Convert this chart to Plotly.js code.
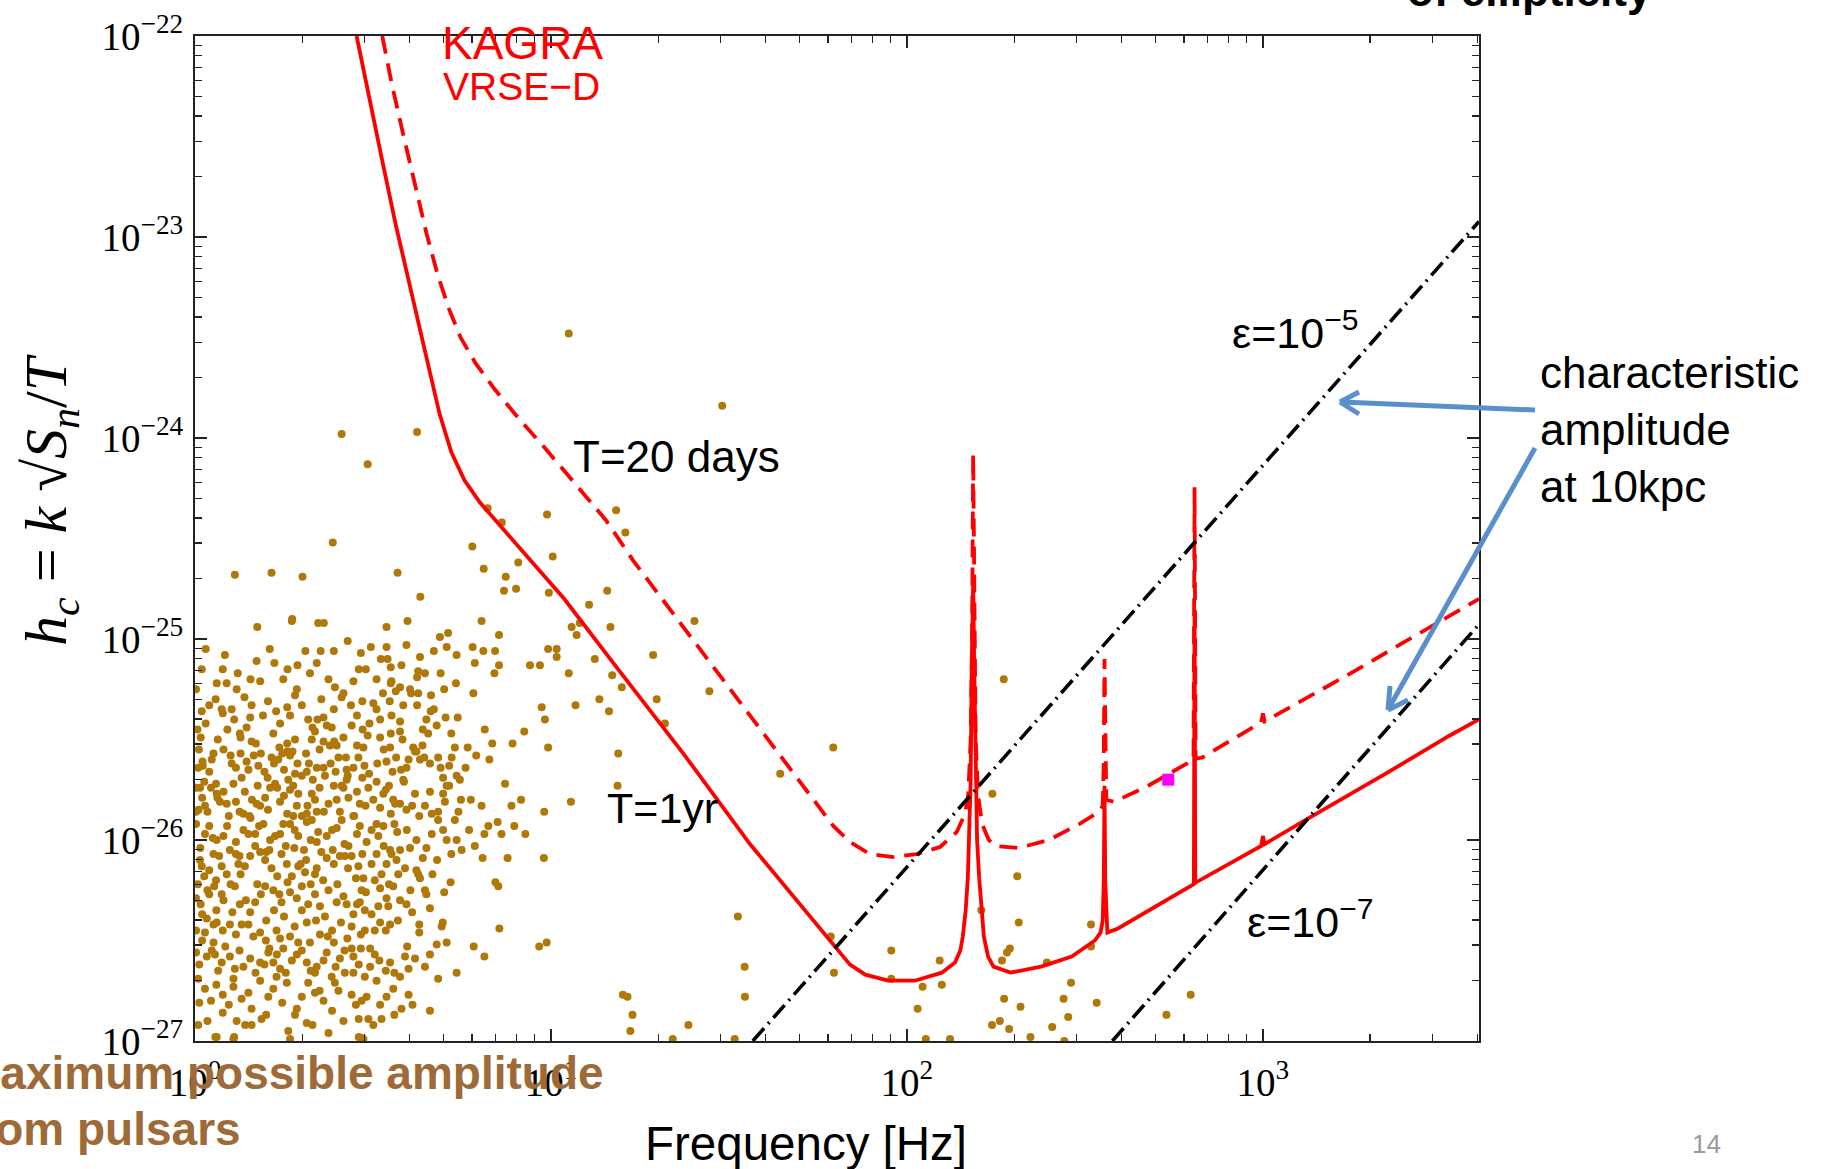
<!DOCTYPE html>
<html><head><meta charset="utf-8">
<script src="https://cdn.plot.ly/plotly-3.0.1.min.js"></script>
<style>html,body{margin:0;padding:0;background:#fff}</style>
</head><body><div id="chart" style="width:1830px;height:1169px"></div>
<script>
// ---------- DATA (log10 frequency [Hz], log10 h_c) ----------
// KAGRA VRSE-D sensitivity, T = 1 yr (solid)
const solidLogF = [0.454,0.488,0.526,0.564,0.607,0.650,0.687,0.720,0.757,0.800,0.865,0.940,1.037,1.184,1.372,1.559,1.690,1.780,1.840,1.883,1.947,2.022,2.098,2.135,2.150,2.157,2.165,2.171,2.176,2.179,2.182,2.186,2.189,2.193,2.197,2.203,2.210,2.216,2.228,2.243,2.291,2.377,2.463,2.528,2.544,2.550,2.553,2.555,2.557,2.560,2.563,2.593,2.700,2.800,2.806,2.808,2.810,2.813,2.915,2.995,3.000,3.005,3.130,3.345,3.525,3.607];
const solidLogH = [-22.00,-22.30,-22.62,-22.94,-23.27,-23.59,-23.88,-24.07,-24.21,-24.32,-24.45,-24.60,-24.80,-25.14,-25.57,-26.02,-26.30,-26.495,-26.62,-26.67,-26.70,-26.70,-26.66,-26.61,-26.55,-26.48,-26.35,-26.19,-25.95,-25.71,-25.14,-24.71,-25.14,-25.71,-26.00,-26.19,-26.38,-26.48,-26.58,-26.63,-26.66,-26.63,-26.58,-26.50,-26.46,-26.40,-26.20,-25.73,-26.20,-26.42,-26.46,-26.44,-26.33,-26.23,-26.22,-24.875,-26.215,-26.21,-26.11,-26.03,-25.98,-26.02,-25.89,-25.67,-25.48,-25.40];
// T = 20 days (dashed)
const dashLogF = [0.526,0.553,0.585,0.617,0.650,0.682,0.714,0.746,0.789,0.843,0.908,0.983,1.069,1.155,1.231,1.372,1.512,1.653,1.793,1.840,1.896,1.962,2.027,2.093,2.140,2.163,2.172,2.179,2.183,2.186,2.189,2.193,2.200,2.211,2.230,2.249,2.313,2.399,2.485,2.539,2.550,2.553,2.555,2.557,2.560,2.582,2.678,2.786,2.805,2.808,2.811,2.829,2.995,3.000,3.005,3.237,3.525,3.607];
const dashLogH = [-22.00,-22.24,-22.49,-22.73,-22.98,-23.19,-23.36,-23.50,-23.63,-23.76,-23.90,-24.05,-24.23,-24.41,-24.61,-24.94,-25.27,-25.60,-25.93,-26.01,-26.07,-26.085,-26.07,-26.035,-25.96,-25.87,-25.78,-25.50,-25.00,-24.08,-25.00,-25.50,-25.78,-25.92,-26.00,-26.03,-26.04,-26.00,-25.92,-25.86,-25.83,-25.60,-25.10,-25.60,-25.80,-25.81,-25.73,-25.62,-25.60,-24.245,-25.595,-25.59,-25.415,-25.37,-25.41,-25.18,-24.88,-24.80];
// characteristic amplitude at 10 kpc lines (end points)
const eps5LogF = [1.567, 3.607];
const eps5LogH = [-27.0, -22.923];
const eps7LogF = [2.577, 3.607];
const eps7LogH = [-27.0, -24.927];
// magenta marker
const markLogF = [2.734];
const markLogH = [-25.70];
// pulsars: maximum possible amplitude (log10 f, log10 h)
const clusterPoints = [
[0.175,-24.94],[0.272,-24.91],[0.346,-24.92],[0.362,-24.92],[0.538,-24.94],[0.597,-24.91],[0.805,-24.91],[1.081,-24.92],[1.072,-24.98],[1.058,-24.94],[0.429,-25.01],[0.688,-24.99],[0.711,-24.97],[0.854,-24.98],[0.594,-25.03],[0.707,-25.04],[0.780,-25.04],[0.992,-25.05],[1.016,-25.05],[0.353,-25.06],[0.390,-25.06],[0.494,-25.04],[0.538,-25.04],[0.843,-25.06],[0.810,-25.06],[0.084,-25.08],[0.632,-25.09],
[0.173,-25.11],[0.223,-25.12],[0.078,-25.15],[0.019,-25.15],[0.288,-25.13],[0.323,-25.17],[0.342,-25.12],[0.466,-25.07],[0.522,-25.10],[0.541,-25.10],[0.550,-25.14],[0.646,-25.17],[0.627,-25.16],[0.671,-25.06],[0.735,-25.08],[0.786,-25.12],[0.854,-25.13],[0.841,-25.17],[0.941,-25.13],[0.969,-25.13],[1.050,-25.17],[1.016,-25.09],[0.061,-25.22],[0.089,-25.22],[0.156,-25.20],[0.183,-25.21],[0.248,-25.20],[0.445,-25.21],[0.480,-25.15],[0.510,-25.20],[0.552,-25.21],[0.576,-25.24],[0.624,-25.19],[0.733,-25.22],[1.123,-25.10],
[0.003,-25.25],[0.040,-25.33],[0.117,-25.25],[0.139,-25.29],[0.159,-25.33],[0.191,-25.38],[0.155,-25.39],[0.110,-25.40],[0.078,-25.37],[0.019,-25.36],[0.075,-25.35],[0.103,-25.35],[0.239,-25.42],[0.267,-25.38],[0.259,-25.34],[0.286,-25.25],[0.281,-25.28],[0.318,-25.40],[0.344,-25.40],[0.361,-25.39],[0.393,-25.24],[0.390,-25.35],[0.417,-25.27],[0.438,-25.33],[0.412,-25.29],[0.470,-25.31],[0.501,-25.32],[0.510,-25.35],[0.520,-25.40],[0.528,-25.27],[0.550,-25.22],[0.547,-25.31],[0.564,-25.26],[0.604,-25.25],[0.607,-25.27],[0.627,-25.27],[0.624,-25.33],[0.650,-25.40],[0.662,-25.36],[0.671,-25.35],[0.663,-25.28],[0.700,-25.25],[0.704,-25.39],[0.679,-25.43],[0.738,-25.39],[0.782,-25.27],[0.974,-25.34],[0.983,-25.40],[1.069,-25.33],[1.136,-25.30],[0.552,-25.38],[0.576,-25.41],
[0.007,-25.45],[0.016,-25.49],[0.064,-25.50],[0.091,-25.45],[0.126,-25.47],[0.128,-25.49],[0.159,-25.51],[0.171,-25.52],[0.185,-25.57],[0.220,-25.47],[0.237,-25.54],[0.259,-25.52],[0.274,-25.56],[0.281,-25.50],[0.259,-25.56],[0.328,-25.50],[0.337,-25.46],[0.361,-25.51],[0.379,-25.53],[0.370,-25.43],[0.384,-25.44],[0.398,-25.53],[0.391,-25.51],[0.417,-25.49],[0.440,-25.43],[0.471,-25.45],[0.485,-25.48],[0.473,-25.54],[0.520,-25.49],[0.550,-25.47],[0.548,-25.54],[0.576,-25.46],[0.583,-25.50],[0.613,-25.54],[0.639,-25.53],[0.622,-25.56],[0.655,-25.47],[0.730,-25.54],[0.766,-25.54],[0.814,-25.45],[0.835,-25.52],[0.892,-25.52],[0.925,-25.46],[0.992,-25.54],[0.100,-25.58],[0.052,-25.57],[0.011,-25.55],[0.021,-25.61],[0.009,-25.64],[0.047,-25.60],
[0.022,-25.63],[0.026,-25.71],[0.059,-25.72],[0.103,-25.62],[0.128,-25.57],[0.131,-25.69],[0.145,-25.61],[0.150,-25.65],[0.178,-25.63],[0.176,-25.73],[0.204,-25.69],[0.215,-25.59],[0.234,-25.60],[0.222,-25.62],[0.250,-25.65],[0.267,-25.58],[0.288,-25.62],[0.281,-25.67],[0.300,-25.68],[0.312,-25.57],[0.314,-25.66],[0.331,-25.70],[0.342,-25.64],[0.361,-25.64],[0.365,-25.68],[0.381,-25.62],[0.403,-25.59],[0.424,-25.59],[0.426,-25.65],[0.429,-25.68],[0.412,-25.73],[0.445,-25.64],[0.459,-25.59],[0.476,-25.63],[0.489,-25.67],[0.512,-25.62],[0.510,-25.71],[0.538,-25.61],[0.565,-25.59],[0.579,-25.65],[0.594,-25.64],[0.587,-25.71],[0.618,-25.56],[0.632,-25.60],[0.644,-25.59],[0.683,-25.59],[0.690,-25.64],[0.714,-25.63],[0.721,-25.59],[0.697,-25.69],[0.714,-25.73],[0.735,-25.68],[0.744,-25.70],[0.827,-25.60],[0.871,-25.72],[1.056,-25.81],[0.003,-25.74],[0.014,-25.74],[0.063,-25.79],
[0.003,-25.86],[0.010,-25.85],[0.028,-25.83],[0.035,-25.86],[0.061,-25.77],[0.070,-25.81],[0.080,-25.76],[0.089,-25.82],[0.108,-25.72],[0.115,-25.81],[0.125,-25.86],[0.136,-25.87],[0.153,-25.88],[0.173,-25.82],[0.183,-25.83],[0.197,-25.79],[0.211,-25.74],[0.225,-25.72],[0.231,-25.74],[0.239,-25.81],[0.267,-25.75],[0.276,-25.73],[0.259,-25.87],[0.286,-25.83],[0.300,-25.88],[0.314,-25.87],[0.316,-25.83],[0.337,-25.80],[0.342,-25.86],[0.328,-25.77],[0.362,-25.86],[0.398,-25.80],[0.407,-25.86],[0.417,-25.74],[0.426,-25.70],[0.431,-25.79],[0.445,-25.88],[0.463,-25.82],[0.479,-25.83],[0.487,-25.74],[0.501,-25.80],[0.529,-25.77],[0.536,-25.75],[0.557,-25.80],[0.550,-25.87],[0.562,-25.82],[0.576,-25.82],[0.585,-25.70],[0.594,-25.85],[0.618,-25.77],[0.630,-25.88],[0.646,-25.83],[0.665,-25.87],[0.683,-25.86],[0.697,-25.77],[0.702,-25.81],[0.707,-25.73],[0.730,-25.90],[0.747,-25.80],[0.805,-25.83],[0.889,-25.83],[0.916,-25.80],[0.981,-25.86],
[0.003,-25.92],[0.028,-25.97],[0.050,-25.99],[0.061,-26.00],[0.080,-25.98],[0.098,-26.05],[0.115,-26.01],[0.136,-25.95],[0.156,-25.89],[0.169,-25.97],[0.192,-25.92],[0.211,-26.00],[0.225,-25.98],[0.239,-25.97],[0.248,-25.92],[0.267,-25.92],[0.276,-25.88],[0.290,-25.98],[0.306,-26.05],[0.314,-25.91],[0.328,-25.90],[0.346,-25.96],[0.342,-26.01],[0.370,-25.98],[0.398,-25.94],[0.412,-25.90],[0.431,-26.03],[0.447,-25.88],[0.463,-25.93],[0.482,-26.01],[0.496,-25.95],[0.515,-25.98],[0.510,-25.92],[0.529,-25.93],[0.548,-26.05],[0.568,-25.96],[0.576,-26.05],[0.604,-26.04],[0.622,-26.00],[0.622,-26.15],[0.650,-26.04],[0.665,-25.97],[0.683,-25.90],[0.697,-25.95],[0.707,-26.00],[0.735,-26.00],[0.749,-26.05],[0.786,-26.03],[0.813,-25.97],[0.808,-26.09],[0.824,-25.93],[0.850,-25.91],[0.861,-25.97],[0.897,-25.93],[0.928,-25.97],[0.980,-26.09],[0.878,-26.09],
[0.014,-26.10],[0.019,-26.13],[0.026,-26.18],[0.040,-26.15],[0.052,-26.07],[0.059,-26.20],[0.068,-26.08],[0.089,-26.17],[0.115,-26.07],[0.122,-26.12],[0.128,-26.17],[0.155,-26.08],[0.169,-26.03],[0.183,-26.06],[0.197,-26.10],[0.209,-26.05],[0.215,-26.14],[0.231,-26.18],[0.243,-26.07],[0.258,-26.12],[0.279,-26.04],[0.272,-26.18],[0.297,-26.12],[0.309,-26.16],[0.312,-26.10],[0.337,-26.17],[0.342,-26.14],[0.370,-26.09],[0.387,-26.05],[0.390,-26.12],[0.407,-26.08],[0.421,-26.08],[0.440,-26.08],[0.452,-26.19],[0.459,-26.13],[0.473,-26.19],[0.496,-26.12],[0.510,-26.07],[0.524,-26.17],[0.538,-26.12],[0.552,-26.07],[0.566,-26.10],[0.571,-26.17],[0.627,-26.17],[0.632,-26.19],[0.667,-26.17],[0.718,-26.21],[0.844,-26.21],[0.852,-26.23],
[0.003,-26.29],[0.016,-26.32],[0.040,-26.27],[0.054,-26.23],[0.075,-26.27],[0.080,-26.30],[0.112,-26.23],[0.126,-26.32],[0.143,-26.30],[0.169,-26.31],[0.185,-26.27],[0.197,-26.23],[0.222,-26.35],[0.237,-26.27],[0.243,-26.31],[0.267,-26.26],[0.286,-26.29],[0.300,-26.23],[0.318,-26.32],[0.337,-26.27],[0.351,-26.33],[0.375,-26.25],[0.398,-26.31],[0.417,-26.28],[0.426,-26.32],[0.445,-26.37],[0.463,-26.31],[0.468,-26.25],[0.477,-26.35],[0.496,-26.37],[0.520,-26.24],[0.538,-26.29],[0.543,-26.33],[0.557,-26.23],[0.576,-26.30],[0.594,-26.32],[0.646,-26.25],[0.650,-26.27],[0.660,-26.34],[0.630,-26.42],[0.696,-26.41],[0.693,-26.43],[0.003,-26.45],[0.028,-26.46],[0.052,-26.42],
[0.033,-26.39],[0.061,-26.41],[0.078,-26.45],[0.098,-26.42],[0.131,-26.42],[0.150,-26.42],[0.164,-26.48],[0.183,-26.46],[0.199,-26.50],[0.209,-26.54],[0.229,-26.45],[0.239,-26.49],[0.248,-26.54],[0.267,-26.48],[0.290,-26.51],[0.314,-26.41],[0.323,-26.51],[0.351,-26.47],[0.373,-26.48],[0.390,-26.51],[0.410,-26.41],[0.428,-26.49],[0.440,-26.54],[0.466,-26.47],[0.477,-26.45],[0.492,-26.54],[0.520,-26.41],[0.536,-26.45],[0.548,-26.42],[0.596,-26.53],[0.630,-26.46],[0.679,-26.52],[0.707,-26.51],[0.783,-26.53],[0.967,-26.53],[0.988,-26.51],[0.855,-26.44],[0.003,-26.56],[0.012,-26.62],[0.052,-26.51],[0.047,-26.55],
[0.033,-26.58],[0.056,-26.57],[0.075,-26.61],[0.098,-26.58],[0.112,-26.64],[0.136,-26.63],[0.155,-26.59],[0.183,-26.61],[0.206,-26.56],[0.220,-26.61],[0.239,-26.64],[0.272,-26.60],[0.286,-26.57],[0.314,-26.61],[0.337,-26.66],[0.342,-26.63],[0.361,-26.60],[0.384,-26.68],[0.407,-26.59],[0.445,-26.58],[0.466,-26.54],[0.445,-26.66],[0.477,-26.68],[0.492,-26.63],[0.518,-26.60],[0.536,-26.65],[0.548,-26.61],[0.576,-26.68],[0.590,-26.58],[0.618,-26.59],[0.646,-26.63],[0.683,-26.69],[0.735,-26.66],[0.813,-26.58],[0.009,-26.69],[0.028,-26.74],[0.078,-26.77],[0.108,-26.69],
[0.108,-26.73],[0.131,-26.79],[0.159,-26.84],[0.183,-26.70],[0.206,-26.78],[0.229,-26.68],[0.258,-26.71],[0.286,-26.84],[0.318,-26.71],[0.337,-26.76],[0.361,-26.80],[0.393,-26.71],[0.403,-26.75],[0.421,-26.66],[0.452,-26.82],[0.468,-26.80],[0.482,-26.78],[0.510,-26.70],[0.538,-26.78],[0.557,-26.74],[0.580,-26.84],[0.611,-26.82],[0.660,-26.85],[0.078,-26.86],[0.117,-26.90],[0.141,-26.92],[0.159,-26.92],[0.187,-26.89],[0.012,-26.81],[0.009,-26.92],[0.035,-26.90],[0.281,-26.87],[0.314,-26.91],[0.417,-26.90],[0.487,-26.89],[0.501,-26.92],[0.524,-26.89],
[0.061,-26.98],[0.108,-26.99],[0.262,-26.95],[0.375,-26.96],[0.473,-26.99],[0.267,-26.99],[0.057,-26.98],[0.110,-26.98],[0.460,-26.98],[0.468,-26.985]
];
// further dots of the dense core, read between the ones above
const coreExtraPoints = [
[0.030,-25.42],[0.058,-25.30],[0.145,-25.44],[0.205,-25.31],[0.228,-25.36],[0.300,-25.33],[0.330,-25.44],[0.355,-25.30],[0.455,-25.38],[0.490,-25.42],[0.585,-25.33],[0.640,-25.45],[0.720,-25.47],
[0.040,-25.66],[0.080,-25.55],[0.115,-25.64],[0.165,-25.58],[0.195,-25.66],[0.245,-25.57],[0.262,-25.70],[0.320,-25.62],[0.350,-25.55],[0.395,-25.66],[0.455,-25.53],[0.470,-25.69],[0.530,-25.55],[0.555,-25.66],[0.600,-25.60],[0.660,-25.62],[0.760,-25.64],[0.790,-25.58],
[0.020,-25.79],[0.045,-25.74],[0.095,-25.88],[0.140,-25.76],[0.160,-25.80],[0.205,-25.85],[0.250,-25.78],[0.290,-25.77],[0.350,-25.74],[0.375,-25.82],[0.390,-25.73],[0.455,-25.76],[0.520,-25.84],[0.545,-25.73],[0.610,-25.83],[0.660,-25.76],[0.740,-25.86],[0.775,-25.80],
[0.015,-26.04],[0.040,-25.93],[0.090,-25.93],[0.125,-26.08],[0.150,-25.97],[0.180,-25.93],[0.200,-26.06],[0.255,-26.03],[0.280,-25.95],[0.325,-26.00],[0.355,-26.06],[0.385,-25.95],[0.420,-26.02],[0.455,-25.97],[0.470,-26.07],[0.530,-26.03],[0.560,-25.92],[0.595,-25.95],[0.640,-26.09],[0.720,-26.07],[0.770,-25.95],
[0.008,-26.22],[0.035,-26.25],[0.075,-26.13],[0.100,-26.22],[0.140,-26.13],[0.175,-26.22],[0.220,-26.25],[0.260,-26.21],[0.290,-26.13],[0.325,-26.22],[0.360,-26.20],[0.400,-26.22],[0.430,-26.14],[0.480,-26.26],[0.505,-26.20],[0.545,-26.22],[0.590,-26.14],[0.605,-26.25],[0.680,-26.10],[0.700,-26.26],
[0.020,-26.37],[0.060,-26.35],[0.105,-26.36],[0.115,-26.47],[0.155,-26.36],[0.200,-26.40],[0.250,-26.38],[0.280,-26.43],[0.300,-26.35],[0.340,-26.40],[0.365,-26.38],[0.385,-26.45],[0.440,-26.43],[0.455,-26.32],[0.505,-26.45],[0.515,-26.33],[0.570,-26.40],[0.610,-26.36],
[0.020,-26.50],[0.065,-26.65],[0.085,-26.53],[0.125,-26.55],[0.170,-26.66],[0.195,-26.62],[0.230,-26.57],[0.255,-26.66],[0.300,-26.55],[0.325,-26.65],[0.370,-26.56],[0.395,-26.63],[0.420,-26.55],[0.460,-26.62],[0.505,-26.57],[0.560,-26.66],[0.600,-26.64],[0.660,-26.57],
[0.045,-26.80],[0.060,-26.72],[0.095,-26.82],[0.150,-26.76],[0.200,-26.87],[0.220,-26.74],[0.245,-26.81],[0.300,-26.78],[0.330,-26.92],[0.350,-26.75],[0.385,-26.85],[0.440,-26.77],[0.460,-26.89],[0.520,-26.82],[0.560,-26.87],[0.600,-26.77],
[0.030,-25.05],[0.120,-25.17],[0.210,-25.05],[0.260,-25.15],[0.310,-25.06],[0.375,-25.20],[0.460,-25.15],[0.580,-25.13],[0.690,-25.17]
];
const upperPoints = [
[0.412,-23.98],[0.485,-24.13],[0.387,-24.52],[0.112,-24.68],[0.215,-24.67],[0.302,-24.69],[0.569,-24.67],[0.273,-24.90],[1.050,-23.48],[1.481,-23.84],[0.624,-23.97],[0.822,-24.35],[0.862,-24.42],[0.989,-24.38],[1.183,-24.36],[1.209,-24.47],[0.779,-24.54],[1.005,-24.59],[0.908,-24.62],[0.811,-24.65],[0.873,-24.69],[0.868,-24.76],[0.902,-24.75],[0.994,-24.77],[1.158,-24.76],[0.633,-24.79],[1.107,-24.83],[1.167,-24.94],[1.403,-24.91],[1.287,-25.08],[1.172,-25.18],[1.199,-25.24],[1.445,-25.26],[1.297,-25.30],[1.163,-25.36],[1.320,-25.42],[1.189,-25.57],[1.793,-25.54],[1.644,-25.67],[1.187,-25.73],[2.272,-25.20],[2.240,-25.77],[2.310,-26.18]
];
const lowerPoints = [
[2.209,-26.35],[2.314,-26.41],[2.517,-26.42],[2.517,-26.53],[1.956,-26.55],[2.092,-26.60],[1.956,-26.69],[2.044,-26.73],[2.098,-26.72],[2.267,-26.60],[2.281,-26.56],[2.289,-26.54],[2.393,-26.61],[2.461,-26.71],[2.440,-26.79],[2.273,-26.79],[2.797,-26.77],[2.030,-26.84],[2.053,-26.99],[2.121,-26.99],[2.239,-26.92],[2.261,-26.90],[2.319,-26.83],[2.287,-26.94],[2.347,-26.98],[2.408,-26.93],[2.453,-26.88],[2.442,-27.00],[2.533,-26.81],[2.729,-26.87],[1.525,-26.38],[1.544,-26.63],[1.545,-26.78],[1.202,-26.77],[1.215,-26.78],[1.229,-26.87],[1.223,-26.95],[1.342,-26.99],[1.386,-26.92],[1.516,-26.99],[1.786,-26.48],[1.795,-26.66]
];
// axis ticks
const xTickVals = [1, 10, 100, 1000];
const xTickText = ['10<sup>0</sup>','10<sup>1</sup>','10<sup>2</sup>','10<sup>3</sup>'];
const yTickExp = [-27,-26,-25,-24,-23,-22];

// ---------- BUILD ----------
const p10 = a => a.map(v => Math.pow(10, v));
const allPts = clusterPoints.concat(coreExtraPoints, upperPoints, lowerPoints);
const xMinor = [], yMinor = [];
for (let k = 0; k <= 3; k++) for (let d = 2; d <= 9; d++) xMinor.push(d * Math.pow(10, k));
for (let k = -27; k <= -23; k++) for (let d = 2; d <= 9; d++) yMinor.push(d * Math.pow(10, k));

const traces = [
  {x: p10(allPts.map(p => p[0])), y: p10(allPts.map(p => p[1])), mode: 'markers', type: 'scatter',
   marker: {color: 'rgb(176,120,8)', size: 8, line: {width: 0}}, hoverinfo: 'skip'},
  {x: p10(solidLogF), y: p10(solidLogH), mode: 'lines', type: 'scatter',
   line: {color: '#ff0000', width: 3.8}},
  {x: p10(dashLogF), y: p10(dashLogH), mode: 'lines', type: 'scatter',
   line: {color: '#ff0000', width: 3.8, dash: '18px,10px'}},
  {x: p10(eps5LogF), y: p10(eps5LogH), mode: 'lines', type: 'scatter',
   line: {color: '#000000', width: 3.6, dash: '17px,6px,2px,6px'}},
  {x: p10(eps7LogF), y: p10(eps7LogH), mode: 'lines', type: 'scatter',
   line: {color: '#000000', width: 3.6, dash: '17px,6px,2px,6px'}},
  {x: p10(markLogF), y: p10(markLogH), mode: 'markers', type: 'scatter',
   marker: {color: '#ff00ff', size: 12, symbol: 'square'}}
];

const L = 195, R = 1479, T = 36, B = 1041;
const PX = x => (x - L) / (R - L);
const PY = y => (B - y) / (B - T);
const sans = 'Liberation Sans, Arial, sans-serif';
const serif = 'Liberation Serif, Times New Roman, serif';
const brown = 'rgb(158,106,56)';
const ann = (text, x, y, o) => Object.assign({text, x: PX(x), y: PY(y), xref: 'paper', yref: 'paper',
  showarrow: false, xanchor: 'left', yanchor: 'middle', align: 'left',
  font: {family: sans, size: 44, color: '#000'}}, o || {});

const annotations = [
  ann('KAGRA', 440, 43, {font: {family: sans, size: 46, color: '#ff0000'}}),
  ann('VRSE\u2212D', 441, 86, {font: {family: sans, size: 39, color: '#ff0000'}}),
  ann('T=20 days', 571, 456),
  ann('T=1yr', 605, 808, {font: {family: sans, size: 43, color: '#000'}}),
  ann('\u03b5=10<sup>\u22125</sup>', 1230, 359, {yanchor: 'bottom', font: {family: sans, size: 43, color: '#000'}}),
  ann('\u03b5=10<sup>\u22127</sup>', 1245, 948, {yanchor: 'bottom', font: {family: sans, size: 43, color: '#000'}}),
  ann('characteristic<br>amplitude<br>at 10kpc', 1538, 346, {yanchor: 'top', font: {family: sans, size: 44, color: '#000'}}),
  ann('<b>of ellipticity</b>', 1405, 17, {yanchor: 'bottom', font: {family: sans, size: 44, color: '#000'}}),
  ann('<b>Maximum possible amplitude</b>', -40, 1101, {yanchor: 'bottom', font: {family: sans, size: 46, color: brown}}),
  ann('<b>from pulsars</b>', -40, 1157, {yanchor: 'bottom', font: {family: sans, size: 46, color: brown}}),
  ann('Frequency [Hz]', 643, 1143, {font: {family: sans, size: 47.5, color: '#000'}}),
  ann('14', 1706, 1144, {xanchor: 'center', font: {family: sans, size: 26, color: '#999'}}),
  ann('<i>h</i><sub><i>c</i></sub> = <i>k</i> \u221a<i>S</i><sub><i>n</i></sub>/<i>T</i>', 50, 500,
      {xanchor: 'center', textangle: -90, font: {family: serif, size: 60, color: '#000'}})
];

const arrowColor = '#5B8FCB';
const seg = (x0, y0, x1, y1) => ({type: 'line', xref: 'paper', yref: 'paper', layer: 'above',
  x0: PX(x0), y0: PY(y0), x1: PX(x1), y1: PY(y1), line: {color: arrowColor, width: 5}});
const shapes = [
  seg(1535, 410, 1341, 402), seg(1340, 402, 1359, 392), seg(1340, 402, 1359, 414),
  seg(1535, 448, 1389, 708), seg(1388, 710, 1390, 686), seg(1388, 710, 1408, 700)
];

const axisCommon = {
  type: 'log', tickmode: 'array', ticks: 'inside', ticklen: 12, tickwidth: 1.5, tickcolor: '#222',
  showline: true, linecolor: '#222', linewidth: 2, mirror: 'ticks', showgrid: false, zeroline: false,
  tickfont: {family: serif, size: 39, color: '#000'},
  minor: {tickmode: 'array', ticks: 'inside', ticklen: 7, tickwidth: 1.2, tickcolor: '#222', showgrid: false}
};

const layout = {
  width: 1830, height: 1169,
  margin: {l: L, r: 1830 - R, t: T, b: 1169 - B, pad: 0},
  paper_bgcolor: '#ffffff', plot_bgcolor: '#ffffff',
  showlegend: false,
  xaxis: Object.assign({}, axisCommon, {range: [0, 3.607], tickvals: xTickVals, ticktext: xTickText,
    ticklabelstandoff: 6, minor: Object.assign({}, axisCommon.minor, {tickvals: xMinor})}),
  yaxis: Object.assign({}, axisCommon, {range: [-27, -22], tickvals: p10(yTickExp),
    ticktext: yTickExp.map(e => '10<sup>\u2212' + Math.abs(e) + '</sup>'),
    ticklabelstandoff: 2, minor: Object.assign({}, axisCommon.minor, {tickvals: yMinor})}),
  annotations, shapes
};

Plotly.newPlot('chart', traces, layout, {displayModeBar: false, staticPlot: true});
</script></body></html>
